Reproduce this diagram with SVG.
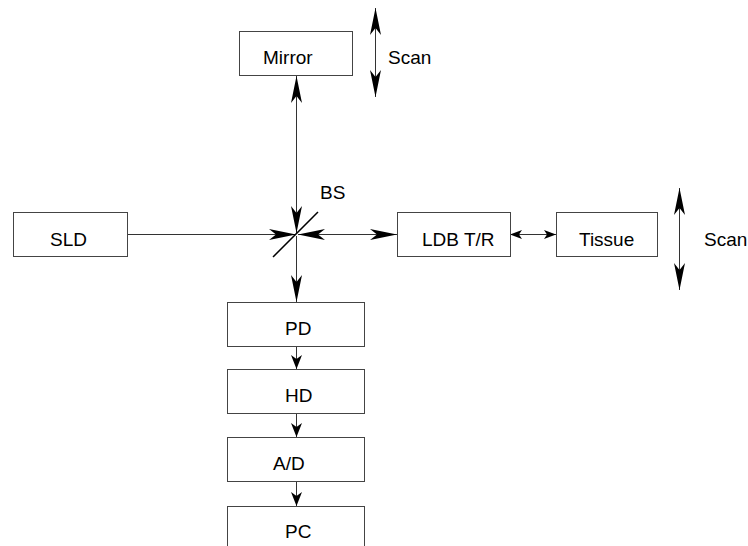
<svg xmlns="http://www.w3.org/2000/svg" width="748" height="546" viewBox="0 0 748 546">
<style>
.box{fill:#fff;stroke:#444;stroke-width:1}
.lbl{font-family:"Liberation Sans",Arial,Helvetica,sans-serif;font-size:19px;fill:#000}
.ln{stroke:#333;stroke-width:1;fill:none}
.big{marker-end:url(#big)}
</style>
<defs>
<marker id="big" markerUnits="userSpaceOnUse" orient="auto-start-reverse" refX="0" refY="0" markerWidth="30" markerHeight="14" overflow="visible">
<path d="M0,0 L-27,-5.5 L-20,0 L-27,5.5 Z" fill="#000"/>
</marker>
<marker id="sm" markerUnits="userSpaceOnUse" orient="auto-start-reverse" refX="0" refY="0" markerWidth="16" markerHeight="12" overflow="visible">
<path d="M0,0 L-14,-5.5 L-10,0 L-14,5.5 Z" fill="#000"/>
</marker>
<marker id="tiny" markerUnits="userSpaceOnUse" orient="auto-start-reverse" refX="0" refY="0" markerWidth="14" markerHeight="12" overflow="visible">
<path d="M0,0 L-12,-4.5 L-9,0 L-12,4.5 Z" fill="#000"/>
</marker>
</defs>
<rect width="748" height="546" fill="#fff"/>
<g id="connectors">
<line class="ln" x1="127" y1="234.5" x2="296" y2="234.5" marker-end="url(#big)"/>
<line class="ln" x1="298" y1="234.5" x2="397" y2="234.5" marker-start="url(#big)" marker-end="url(#big)"/>
<line class="ln" x1="296.5" y1="76" x2="296.5" y2="233" marker-start="url(#big)" marker-end="url(#big)"/>
<line class="ln" x1="296.5" y1="236" x2="296.5" y2="302" marker-end="url(#big)"/>
<line class="ln" x1="296.5" y1="347" x2="296.5" y2="369" marker-end="url(#sm)"/>
<line class="ln" x1="296.5" y1="414" x2="296.5" y2="437" marker-end="url(#sm)"/>
<line class="ln" x1="296.5" y1="482" x2="296.5" y2="506" marker-end="url(#sm)"/>
<line class="ln" x1="510" y1="234.5" x2="556" y2="234.5" marker-start="url(#tiny)" marker-end="url(#tiny)"/>
<line class="ln" x1="375.5" y1="8" x2="375.5" y2="97" marker-start="url(#big)" marker-end="url(#big)"/>
<line class="ln" x1="679.5" y1="188" x2="679.5" y2="290" marker-start="url(#big)" marker-end="url(#big)"/>
</g>
<g id="bs">
<line x1="273" y1="257" x2="318" y2="212" stroke="#000" stroke-width="1.5"/>
<text class="lbl" x="320" y="199">BS</text>
</g>
<g id="mirror">
<rect class="box" x="239.5" y="31.5" width="113" height="44"/>
<text class="lbl" x="263" y="64">Mirror</text>
</g>
<g id="scan-mirror">
<text class="lbl" x="388" y="64">Scan</text>
</g>
<g id="sld">
<rect class="box" x="13.5" y="212.5" width="114" height="44"/>
<text class="lbl" x="50" y="246">SLD</text>
</g>
<g id="ldb">
<rect class="box" x="397.5" y="212.5" width="113" height="44"/>
<text class="lbl" x="422" y="246">LDB T/R</text>
</g>
<g id="tissue">
<rect class="box" x="556.5" y="212.5" width="101" height="44"/>
<text class="lbl" x="579" y="246">Tissue</text>
</g>
<g id="scan-tissue">
<text class="lbl" x="704" y="246">Scan</text>
</g>
<g id="pd">
<rect class="box" x="227.5" y="302.5" width="137" height="44"/>
<text class="lbl" x="285" y="335">PD</text>
</g>
<g id="hd">
<rect class="box" x="227.5" y="369.5" width="137" height="44"/>
<text class="lbl" x="285" y="402">HD</text>
</g>
<g id="ad">
<rect class="box" x="227.5" y="437.5" width="137" height="44"/>
<text class="lbl" x="273" y="470">A/D</text>
</g>
<g id="pc">
<rect class="box" x="227.5" y="506.5" width="137" height="50"/>
<text class="lbl" x="285" y="538">PC</text>
</g>
</svg>
